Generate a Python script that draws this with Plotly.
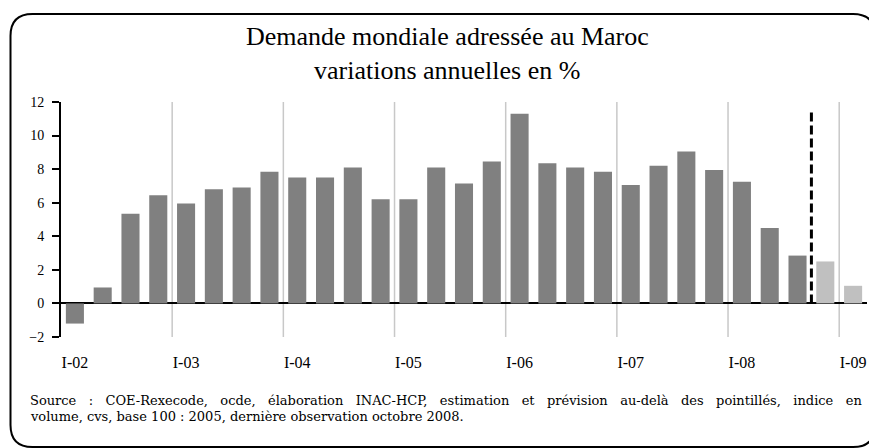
import plotly.graph_objects as go

# ---- data ----
quarters = [f"{q}-{y:02d}" for y in range(2, 10) for q in ["I", "II", "III", "IV"]][:29]
observed = [-1.2, 0.95, 5.35, 6.45, 5.95, 6.8, 6.9, 7.85, 7.5, 7.5, 8.1, 6.2, 6.2, 8.1,
            7.15, 8.45, 11.3, 8.35, 8.1, 7.85, 7.05, 8.2, 9.05, 7.95, 7.25, 4.5, 2.85]
forecast = [2.5, 1.05]
tick_labels = ["I-02", "I-03", "I-04", "I-05", "I-06", "I-07", "I-08", "I-09"]

title_l1 = "Demande mondiale adressée au Maroc"
title_l2 = "variations annuelles en %"
source_l1 = "Source : COE-Rexecode, ocde, élaboration INAC-HCP, estimation et prévision au-delà des pointillés, indice en"
source_l2 = "volume, cvs, base 100 : 2005, dernière observation octobre 2008."

# ---- layout geometry (page is offset by the default 8px body margin) ----
OFF = 8
W, H = 877 - OFF, 448 - OFF
L, R, T, B = 61 - OFF, 10, 102 - OFF, 111
PW, PH = W - L - R, H - T - B


def xp(px):  # screen px -> paper
    return (px - OFF - L) / PW


def yp(py):  # screen px -> paper
    return (OFF + H - B - py) / PH


n_obs = len(observed)
x_obs = list(range(n_obs))
x_fc = list(range(n_obs, n_obs + len(forecast)))
tick_pos = [quarters.index(t) for t in tick_labels]

fig = go.Figure()
fig.add_trace(go.Bar(x=x_obs, y=observed, marker=dict(color="#808080", line=dict(width=0)),
                     name="observé"))
fig.add_trace(go.Bar(x=x_fc, y=forecast, marker=dict(color="#c0c0c0", line=dict(width=0)),
                     name="prévision"))

shapes = []
# year boundary gridlines
for p in tick_pos[1:]:
    shapes.append(dict(type="line", xref="x", yref="paper", x0=p - 0.5, x1=p - 0.5, y0=0, y1=1,
                       line=dict(color="#c8c8c8", width=1.5), layer="below"))
# forecast separator
shapes.append(dict(type="line", xref="x", yref="y", x0=n_obs - 0.5, x1=n_obs - 0.5, y0=0, y1=11.5,
                   line=dict(color="black", width=3, dash="9px,4px"), layer="above"))

# rounded border
bl, bt, br, bb, rad = 10.5, 14, 875, 447, 22
path = (f"M {xp(bl + rad)},{yp(bt)} L {xp(br - rad)},{yp(bt)} "
        f"Q {xp(br)},{yp(bt)} {xp(br)},{yp(bt + rad)} "
        f"L {xp(br)},{yp(bb - rad)} Q {xp(br)},{yp(bb)} {xp(br - rad)},{yp(bb)} "
        f"L {xp(bl + rad)},{yp(bb)} Q {xp(bl)},{yp(bb)} {xp(bl)},{yp(bb - rad)} "
        f"L {xp(bl)},{yp(bt + rad)} Q {xp(bl)},{yp(bt)} {xp(bl + rad)},{yp(bt)} Z")
shapes.append(dict(type="path", xref="paper", yref="paper", path=path,
                   line=dict(color="black", width=2), fillcolor="rgba(0,0,0,0)", layer="above"))

serif = "Liberation Serif, Times New Roman, serif"
src_font = dict(family="DejaVu Serif, serif", size=13, color="black")
annotations = [
    dict(text=title_l1, x=xp(447), y=yp(36), xref="paper", yref="paper", showarrow=False,
         xanchor="center", yanchor="middle", font=dict(family=serif, size=26, color="black")),
    dict(text=title_l2, x=xp(447), y=yp(70), xref="paper", yref="paper", showarrow=False,
         xanchor="center", yanchor="middle", font=dict(family=serif, size=26, color="black")),
    dict(text=source_l1.replace(" ", "\u00a0\u00a0\u00a0"), x=xp(28), y=yp(400.5), xref="paper",
         yref="paper", showarrow=False, xanchor="left", yanchor="middle", font=src_font),
    dict(text=source_l2, x=xp(28), y=yp(416), xref="paper", yref="paper",
         showarrow=False, xanchor="left", yanchor="middle", font=src_font),
]

fig.update_layout(
    width=W, height=H,
    margin=dict(l=L, r=R, t=T, b=B, pad=0),
    paper_bgcolor="white", plot_bgcolor="white",
    showlegend=False, barmode="overlay", bargap=0.35,
    shapes=shapes, annotations=annotations,
    xaxis=dict(range=[-0.5, len(quarters) - 0.5], tickmode="array", tickvals=tick_pos,
               ticktext=tick_labels, showgrid=False, zeroline=False, showline=False,
               ticks="", ticklabelstandoff=14,
               tickfont=dict(family=serif, size=16, color="black")),
    yaxis=dict(range=[-2, 12], dtick=2, tick0=0, showgrid=False, zeroline=True,
               zerolinecolor="black", zerolinewidth=2, showline=True, linecolor="black",
               linewidth=2, ticks="outside", ticklen=7, tickwidth=1.5, tickcolor="black",
               ticklabelstandoff=5, tickfont=dict(family=serif, size=14, color="black")),
)

fig.write_html("out.html")
